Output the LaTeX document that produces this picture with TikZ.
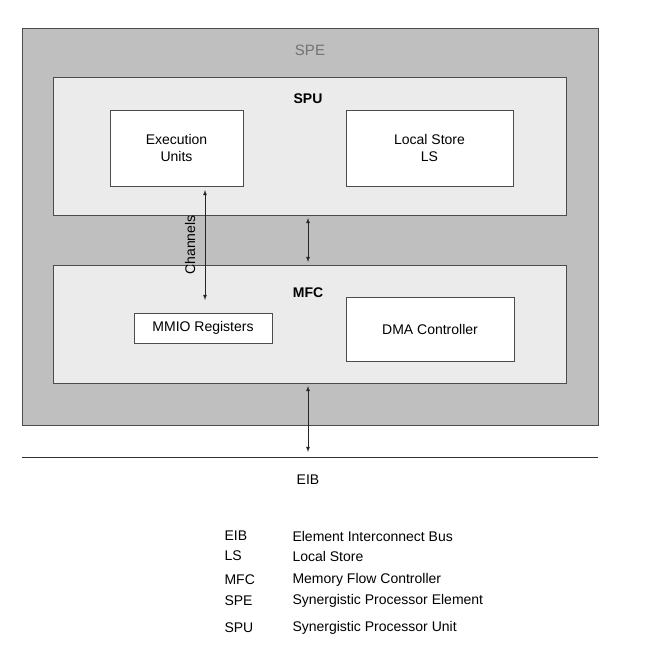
\documentclass[tikz,border=0pt]{standalone}
\usepackage{fontspec}
\setmainfont{Liberation Sans}
\begin{document}
\begin{tikzpicture}[x=1pt,y=-1pt,
  box/.style={draw=black!70,line width=0.8pt},
  wbox/.style={box,fill=white,align=center,font=\fontsize{14}{17}\selectfont},
  arr/.style={<->,>=latex,line width=0.8pt,black!85},
  lbl/.style={font=\fontsize{14}{17}\selectfont,anchor=west}]
\useasboundingbox (0,0) rectangle (657,646);
\node[box,fill=black!25,minimum width=576,minimum height=397,inner sep=0] (spe) at (310,226.5) {};
\node[font=\fontsize{15}{18}\selectfont,text=black!55] (spet) at (310,50) {SPE};
\node[box,fill=black!8,minimum width=513,minimum height=138,inner sep=0] (spu) at (309.5,146) {};
\node[font=\bfseries\fontsize{14}{17}\selectfont] (sput) at (308,99) {SPU};
\node[wbox,minimum width=133,minimum height=76,inner sep=0] (eu) at (176.5,148) {Execution\\Units};
\node[wbox,minimum width=167,minimum height=76,inner sep=0] (ls) at (429.5,148) {Local Store\\LS};
\node[box,fill=black!8,minimum width=513,minimum height=118,inner sep=0] (mfc) at (309.5,324) {};
\node[font=\bfseries\fontsize{14}{17}\selectfont] (mfct) at (308,293) {MFC};
\node[wbox,minimum width=138,minimum height=30,inner sep=0] (mmio) at (203,328) {MMIO Registers};
\node[wbox,minimum width=168,minimum height=64,inner sep=0] (dma) at (430,329) {DMA Controller};
\coordinate (c1) at (205,190);
\coordinate (c2) at (205,300);
\draw[arr] (c1) -- (c2);
\node[rotate=90,font=\fontsize{14}{17}\selectfont] (ch) at (190,245) {Channels};
\draw[arr] (308,218) -- (308,262);
\coordinate (eib) at (308,452);
\draw[arr] (308,386) -- (eib);
\draw[line width=0.7pt,black!80] (22,457) -- (598,457);
\node[font=\fontsize{14}{17}\selectfont] (eibt) at (308,480) {EIB};
\foreach \a/\b/\y in {EIB/Element Interconnect Bus/536, LS/Local Store/556, MFC/Memory Flow Controller/580, SPE/Synergistic Processor Element/601, SPU/Synergistic Processor Unit/628}{
  \node[lbl] at (221,\y) {\a};
  \node[lbl] at (289,\y) {\b};
}
\end{tikzpicture}
\end{document}
